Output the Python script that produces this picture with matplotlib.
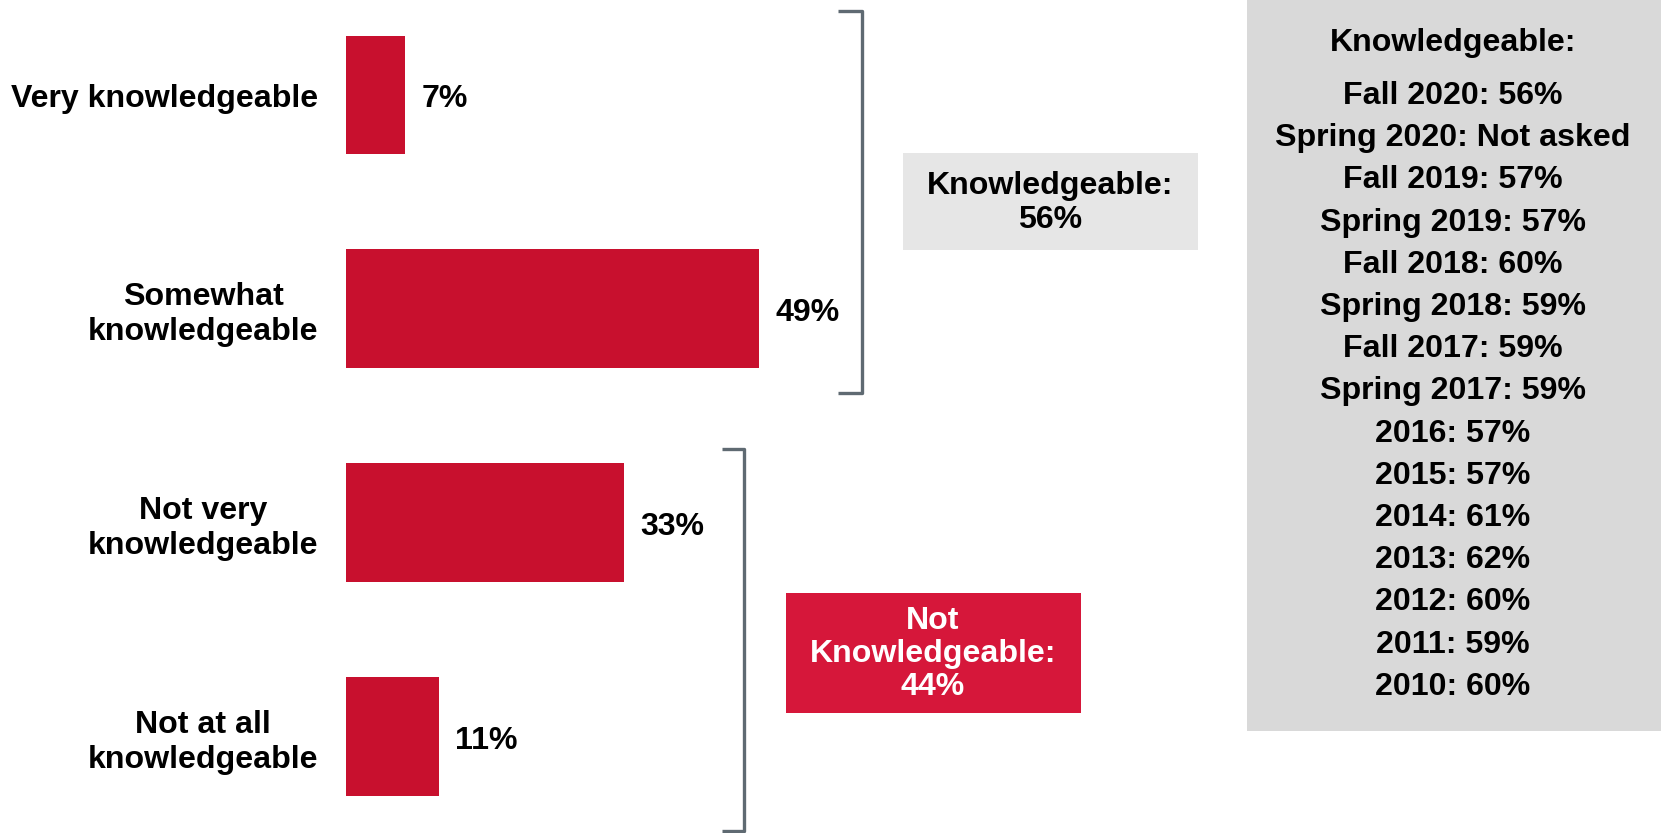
import matplotlib
matplotlib.use("Agg")
import matplotlib.pyplot as plt
import matplotlib.patches as patches
import matplotlib.lines as lines

plt.rcParams['font.family'] = ['Liberation Sans', 'DejaVu Sans']
plt.rcParams['font.weight'] = 'bold'

# Dades
categories = ["Very knowledgeable", "Somewhat\nknowledgeable",
              "Not very\nknowledgeable", "Not at all\nknowledgeable"]
values = [7, 49, 33, 11]
knowledgeable_total = 56
not_knowledgeable_total = 44
history_periods = ["Fall 2020", "Spring 2020", "Fall 2019", "Spring 2019", "Fall 2018",
                   "Spring 2018", "Fall 2017", "Spring 2017", "2016", "2015", "2014",
                   "2013", "2012", "2011", "2010"]
history_values = ["56%", "Not asked", "57%", "57%", "60%", "59%", "59%", "59%",
                  "57%", "57%", "61%", "62%", "60%", "59%", "60%"]

W, H = 1661, 833
fs = 23.1
bar_color = "#c8102e"
box_red = "#d6173a"
bracket_color = "#5f6a72"

fig = plt.figure(figsize=(W / 100, H / 100), dpi=100)

# Eixos de les barres
px_per_pct = 8.42
ax = fig.add_axes([346 / W, 0, 60 * px_per_pct / W, 1])
ax.barh(range(len(values)), values, height=0.556, color=bar_color)
ax.set_xlim(0, 60)
ax.set_ylim(3.449, -0.444)
ax.set_yticks(range(len(categories)))
ax.set_yticklabels(categories, fontsize=fs, fontweight='bold')
for lab in ax.get_yticklabels():
    lab.set_multialignment('center')
    lab.set_linespacing(1.2)
ax.tick_params(axis='y', length=0, pad=20)
ax.set_xticks([])
for s in ax.spines.values():
    s.set_visible(False)
ax.patch.set_alpha(0)

for i, v in enumerate(values):
    ax.annotate(f"{v}%", (v, i), xytext=(12, -3), textcoords='offset points',
                ha='left', va='center', fontsize=fs, fontweight='bold')

# Capa en píxels per claudàtors i caixes
ov = fig.add_axes([0, 0, 1, 1])
ov.set_xlim(0, W)
ov.set_ylim(H, 0)
ov.axis('off')
ov.patch.set_alpha(0)


def bracket(x, y0, y1, tick):
    ov.add_line(lines.Line2D([x - tick, x, x, x - tick], [y0, y0, y1, y1],
                             color=bracket_color, linewidth=2.4,
                             solid_joinstyle='round', solid_capstyle='butt'))


bracket(862, 11, 393, 24)
bracket(744, 449, 831, 22)

ov.add_patch(patches.Rectangle((903, 153), 295, 97, color="#e6e6e6", lw=0))
ov.text(1050, 203, f"Knowledgeable:\n{knowledgeable_total}%", ha='center', va='center',
        fontsize=fs, fontweight='bold', linespacing=1.15)

ov.add_patch(patches.Rectangle((786, 593), 295, 120, color=box_red, lw=0))
ov.text(933, 654, f"Not\nKnowledgeable:\n{not_knowledgeable_total}%", ha='center',
        va='center', fontsize=fs, fontweight='bold', color='white', linespacing=1.13)

# Panell dret amb l'històric
ov.add_patch(patches.Rectangle((1247, 0), W - 1247, 731, color="#d9d9d9", lw=0))
ov.text(1453, 43, "Knowledgeable:", ha='center', va='center', fontsize=fs, fontweight='bold')
for k, (p, v) in enumerate(zip(history_periods, history_values)):
    ov.text(1453, 96 + k * 42.2, f"{p}: {v}", ha='center', va='center',
            fontsize=fs, fontweight='bold')

fig.savefig("out.png", dpi=100)
